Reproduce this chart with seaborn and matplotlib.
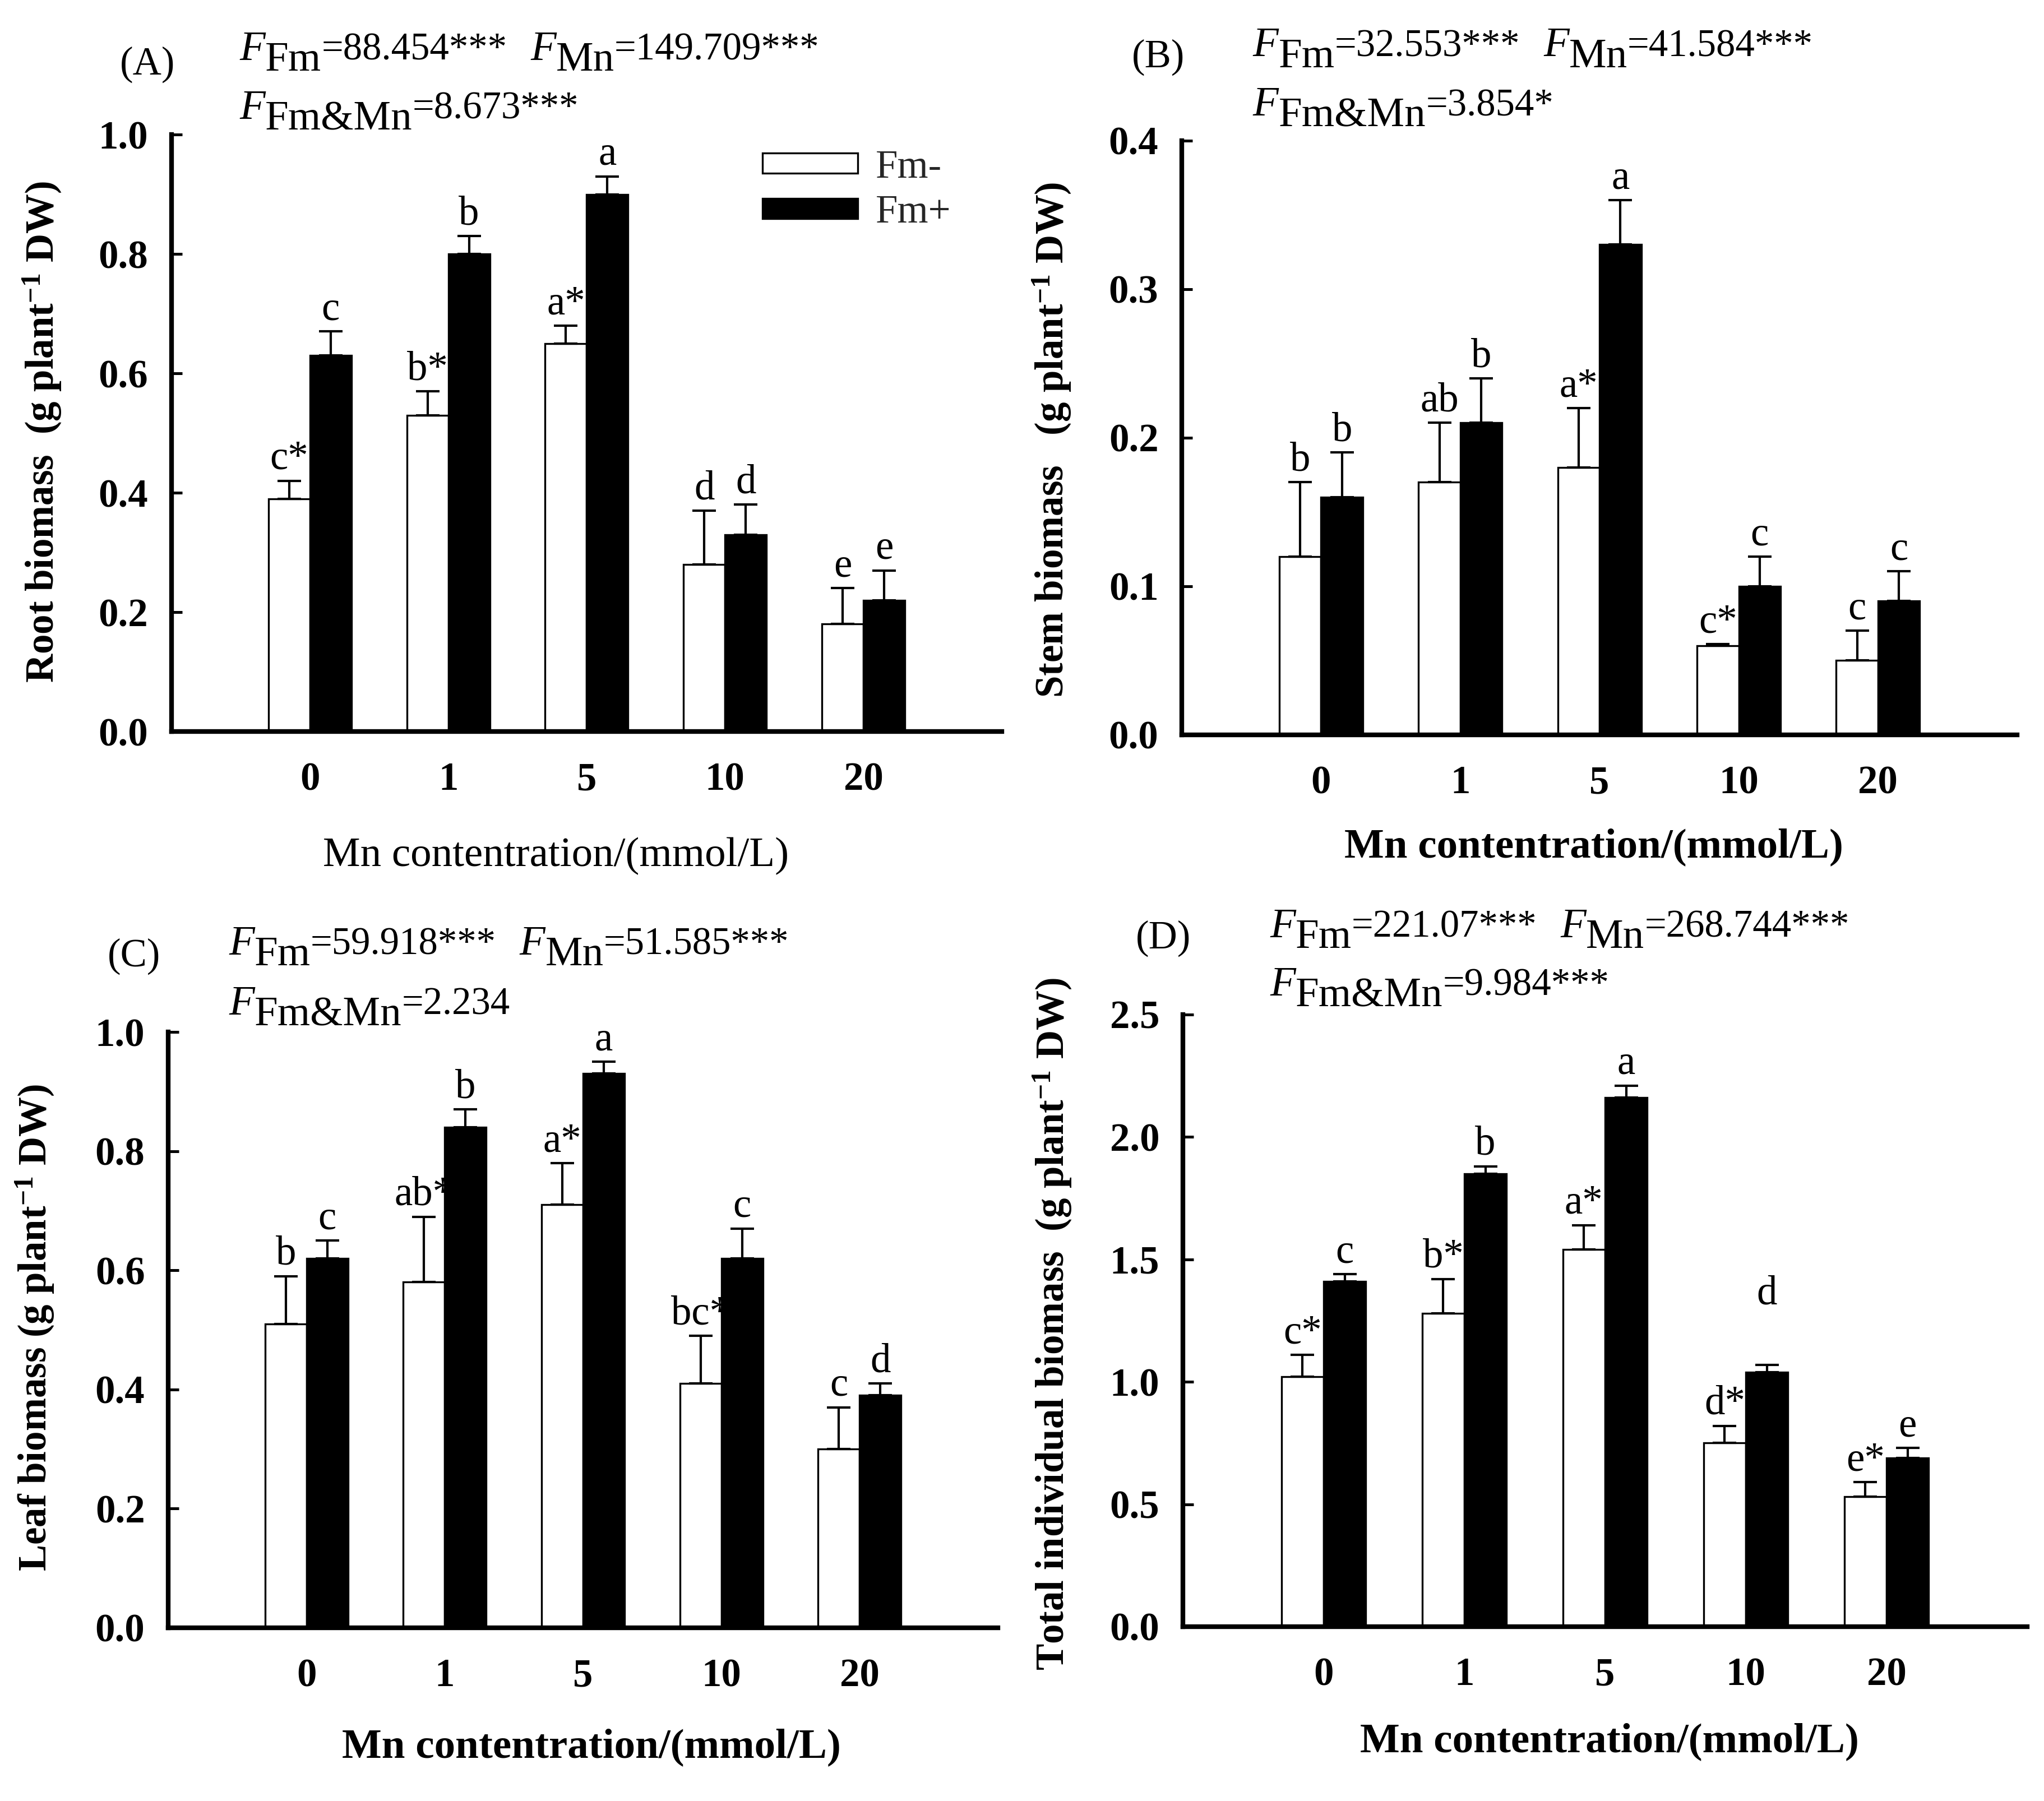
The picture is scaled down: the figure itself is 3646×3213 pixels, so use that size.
import numpy as np
import pandas as pd
import matplotlib
matplotlib.use("Agg")
import matplotlib.pyplot as plt
import seaborn as sns
from matplotlib.ticker import MultipleLocator, FormatStrFormatter
from matplotlib.patches import Patch

# ---- data ----
mn_levels = ["0", "1", "5", "10", "20"]
fm_levels = ["Fm-", "Fm+"]

root_minus = [0.39, 0.53, 0.65, 0.28, 0.18]
root_minus_se = [0.03, 0.04, 0.03, 0.09, 0.06]
root_plus = [0.63, 0.80, 0.90, 0.33, 0.22]
root_plus_se = [0.04, 0.03, 0.03, 0.05, 0.05]
root_minus_sig = ["c*", "b*", "a*", "d", "e"]
root_plus_sig = ["c", "b", "a", "d", "e"]

stem_minus = [0.12, 0.17, 0.18, 0.06, 0.05]
stem_minus_se = [0.05, 0.04, 0.04, 0.001, 0.02]
stem_plus = [0.16, 0.21, 0.33, 0.10, 0.09]
stem_plus_se = [0.03, 0.03, 0.03, 0.02, 0.02]
stem_minus_sig = ["b", "ab", "a*", "c*", "c"]
stem_plus_sig = ["b", "b", "a", "c", "c"]

leaf_minus = [0.51, 0.58, 0.71, 0.41, 0.30]
leaf_minus_se = [0.08, 0.11, 0.07, 0.08, 0.07]
leaf_plus = [0.62, 0.84, 0.93, 0.62, 0.39]
leaf_plus_se = [0.03, 0.03, 0.02, 0.05, 0.02]
leaf_minus_sig = ["b", "ab*", "a*", "bc*", "c"]
leaf_plus_sig = ["c", "b", "a", "c", "d"]

total_minus = [1.02, 1.28, 1.54, 0.75, 0.53]
total_minus_se = [0.09, 0.14, 0.10, 0.07, 0.06]
total_plus = [1.41, 1.85, 2.16, 1.04, 0.69]
total_plus_se = [0.03, 0.03, 0.05, 0.03, 0.04]
total_minus_sig = ["c*", "b*", "a*", "d*", "e*"]
total_plus_sig = ["c", "b", "a", "d", "e"]

f_fm = ["88.454***", "32.553***", "59.918***", "221.07***"]
f_mn = ["149.709***", "41.584***", "51.585***", "268.744***"]
f_int = ["8.673***", "3.854*", "2.234", "9.984***"]

ylabels = [
    r"Root biomass  (g plant$^{\mathbf{-1}}$ DW)",
    r"Stem biomass   (g plant$^{\mathbf{-1}}$ DW)",
    r"Leaf biomass (g plant$^{\mathbf{-1}}$ DW)",
    r"Total individual biomass  (g plant$^{\mathbf{-1}}$ DW)",
]
xlabel = "Mn contentration/(mmol/L)"
tags = ["(A)", "(B)", "(C)", "(D)"]

# ---- layout ----
rects = [
    [0.0839, 0.5938, 0.4062, 0.3315],
    [0.5782, 0.5920, 0.4087, 0.3299],
    [0.0823, 0.0962, 0.4059, 0.3308],
    [0.5787, 0.0968, 0.4131, 0.3399],
]
ylims = [1.0, 0.4, 1.0, 2.5]
ysteps = [0.2, 0.1, 0.2, 0.5]
tag_pos = [(-0.029, 1.101), (-0.028, 1.124), (-0.041, 1.110), (-0.023, 1.108)]
ftext_pos = [(0.082, 1.125, 1.026), (0.085, 1.142, 1.042),
             (0.073, 1.130, 1.029), (0.103, 1.126, 1.031)]
ylab_pos = [(-0.131, 0.502), (-0.131, 0.496), (-0.136, 0.504), (-0.130, 0.494)]
xlab_pos = [(0.463, -0.177), (0.493, -0.157), (0.51, -0.169), (0.505, -0.157)]
xlab_bold = [False, True, True, True]
sig_lift = {(3, 1, 3): 0.2}  # the raised "d" in panel D

sns.set_theme(style="ticks")
plt.rcParams["font.family"] = ["Liberation Serif", "DejaVu Serif"]
plt.rcParams["mathtext.fontset"] = "custom"
plt.rcParams["mathtext.rm"] = "Liberation Serif"
plt.rcParams["mathtext.it"] = "Liberation Serif:italic"
plt.rcParams["mathtext.bf"] = "Liberation Serif:bold"

DESC = 0.217


def rich_line(ax, x, y, pieces):
    prev = None
    for text, size, style, dy, gap in pieces:
        if prev is None:
            t = ax.text(x, y, text, transform=ax.transAxes, fontsize=size,
                        fontstyle=style, va="baseline", ha="left", color="black")
        else:
            p_size, p_dy = prev_info
            off = DESC * p_size - DESC * size - p_dy + dy
            t = ax.annotate(text, xy=(1, 0), xycoords=prev, xytext=(gap, off),
                            textcoords="offset points", fontsize=size,
                            fontstyle=style, va="bottom", ha="left", color="black")
        prev = t
        prev_info = (size, dy)


def draw_panel(i, minus, minus_se, plus, plus_se, minus_sig, plus_sig):
    ax = fig.add_axes(rects[i])
    df = pd.DataFrame({
        "mn": mn_levels * 2,
        "fm": [fm_levels[0]] * 5 + [fm_levels[1]] * 5,
        "value": minus + plus,
        "se": minus_se + plus_se,
        "sig": minus_sig + plus_sig,
    })
    sns.barplot(data=df, x="mn", y="value", hue="fm", order=mn_levels,
                hue_order=fm_levels, palette={"Fm-": "white", "Fm+": "black"},
                edgecolor="black", linewidth=0.8, width=0.6, errorbar=None,
                saturation=1, legend=False, ax=ax)

    for k, (container, level) in enumerate(zip(ax.containers, fm_levels)):
        sub = df[df["fm"] == level]
        xs = [b.get_x() + b.get_width() / 2 for b in container]
        ax.errorbar(xs, sub["value"], yerr=[np.zeros(len(sub)), sub["se"]],
                    fmt="none", ecolor="black", elinewidth=1.0, capsize=5,
                    capthick=1.0, zorder=3)
        for j, (x, v, s, lab) in enumerate(zip(xs, sub["value"], sub["se"], sub["sig"])):
            lift = sig_lift.get((i, k, j), 0)
            ax.annotate(lab, xy=(x, v + s + lift), xytext=(0, 5),
                        textcoords="offset points", ha="center", va="baseline",
                        fontsize=17.5, color="black")

    ax.set_xlim(-1, 5)
    ax.set_ylim(0, ylims[i])
    ax.yaxis.set_major_locator(MultipleLocator(ysteps[i]))
    ax.yaxis.set_major_formatter(FormatStrFormatter("%.1f"))
    sns.despine(ax=ax)
    for side in ["left", "bottom"]:
        ax.spines[side].set_linewidth(2)
        ax.spines[side].set_color("black")
    ax.tick_params(axis="y", direction="in", length=4.5, width=1.2, pad=10,
                   labelsize=17, colors="black")
    ax.tick_params(axis="x", length=0, pad=13, labelsize=17, colors="black")
    for lab in ax.get_xticklabels() + ax.get_yticklabels():
        lab.set_fontweight("bold")

    ax.set_ylabel(ylabels[i], fontsize=17, fontweight="bold", color="black")
    ax.yaxis.set_label_coords(*ylab_pos[i])
    ax.set_xlabel(xlabel, fontsize=18, color="black",
                  fontweight="bold" if xlab_bold[i] else "normal")
    ax.xaxis.set_label_coords(*xlab_pos[i])

    ax.text(tag_pos[i][0], tag_pos[i][1], tags[i], transform=ax.transAxes,
            fontsize=17, ha="center", va="baseline", color="black")
    fx, fy1, fy2 = ftext_pos[i]
    rich_line(ax, fx, fy1, [
        ("F", 18, "italic", 0, 0), ("Fm", 18, "normal", -4.6, 0),
        ("=" + f_fm[i], 16.5, "normal", 0, 0),
        ("F", 18, "italic", 0, 10), ("Mn", 18, "normal", -4.6, 0),
        ("=" + f_mn[i], 16.5, "normal", 0, 0),
    ])
    rich_line(ax, fx, fy2, [
        ("F", 18, "italic", 0, 0), ("Fm&Mn", 18, "normal", -4.6, 0),
        ("=" + f_int[i], 16.5, "normal", 0, 0),
    ])
    return ax


fig = plt.figure(figsize=(3646 / 300, 3213 / 300), dpi=300)
fig.patch.set_facecolor("white")

ax_a = draw_panel(0, root_minus, root_minus_se, root_plus, root_plus_se,
                  root_minus_sig, root_plus_sig)
draw_panel(1, stem_minus, stem_minus_se, stem_plus, stem_plus_se,
           stem_minus_sig, stem_plus_sig)
draw_panel(2, leaf_minus, leaf_minus_se, leaf_plus, leaf_plus_se,
           leaf_minus_sig, leaf_plus_sig)
draw_panel(3, total_minus, total_minus_se, total_plus, total_plus_se,
           total_minus_sig, total_plus_sig)

handles = [Patch(facecolor="white", edgecolor="black", linewidth=0.8, label="Fm-"),
           Patch(facecolor="black", edgecolor="black", linewidth=0.8, label="Fm+")]
ax_a.legend(handles=handles, loc="upper left", bbox_to_anchor=(0.712, 0.975),
            frameon=False, fontsize=17, handlelength=2.4, handleheight=0.4,
            handletextpad=0.45, labelspacing=0.22, borderaxespad=0, borderpad=0)

fig.savefig("out.png", dpi=300, facecolor="white")
